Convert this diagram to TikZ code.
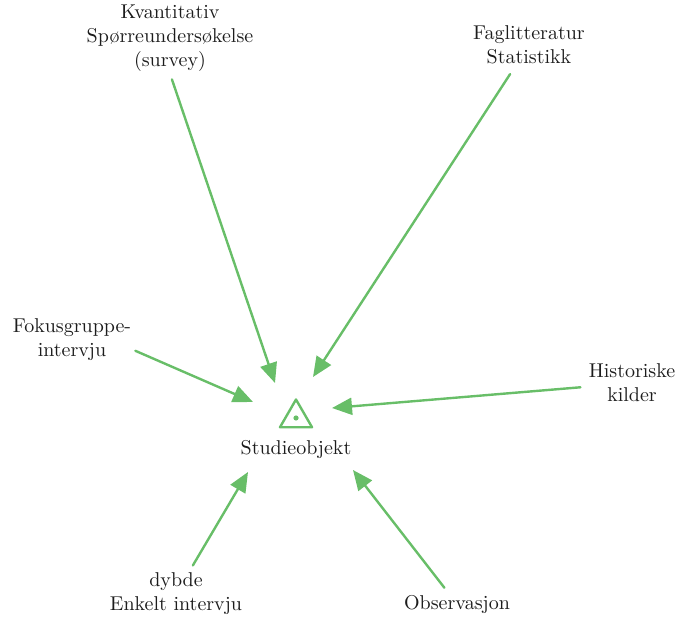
\documentclass[tikz,border=0pt]{standalone}
\usetikzlibrary{arrows.meta,shapes.geometric}
\definecolor{leafgreen}{RGB}{104,190,104}
\definecolor{inkgray}{RGB}{28,28,28}
\tikzset{
  srcnode/.style={align=center,text=inkgray,inner sep=1pt},
  objnode/.style={regular polygon,regular polygon sides=3,draw=leafgreen,line width=1.2pt,minimum size=18.5pt,inner sep=0pt},
  feedarrow/.style={draw=leafgreen,line width=1.2pt,shorten <=3pt,-{Triangle[length=10pt,width=8.5pt]},leafgreen},
  every picture/.style={line cap=round,line join=round}
}
\begin{document}
\begin{tikzpicture}[x=0.5pt,y=-0.5pt]
  \useasboundingbox (0,0) rectangle (684,619);
  % study object in the middle
  \node[objnode] (tri) at (296,418) {};
  \fill[leafgreen] (tri.center) circle (1.3pt);
  \node[srcnode] (studie) at (296,449) {Studieobjekt};
  % sources round it
  \node[srcnode] (kvant) at (170,38) {Kvantitativ\\Spørreundersøkelse\\(survey)};
  \node[srcnode] (fag) at (529,45) {Faglitteratur\\Statistikk};
  \node[srcnode] (fokus) at (72,340) {Fokusgruppe-\\intervju};
  \node[srcnode] (hist) at (632,383) {Historiske\\kilder};
  \node[srcnode] (dybde) at (176,594) {dybde\\Enkelt intervju};
  \node[srcnode] (obs) at (457,604) {Observasjon};
  % arrow tips
  \coordinate (kvantTip) at (275,383);
  \coordinate (fagTip) at (313,377);
  \coordinate (fokusTip) at (253,402);
  \coordinate (histTip) at (332,408);
  \coordinate (dybdeTip) at (248,472);
  \coordinate (obsTip) at (353,470);
  \draw[feedarrow] (kvant.south) -- (kvantTip);
  \draw[feedarrow,shorten <=4.5pt] (fag) -- (fagTip);
  \draw[feedarrow,shorten <=1pt] ([yshift=-5pt]fokus.east) -- (fokusTip);
  \draw[feedarrow] (hist) -- (histTip);
  \draw[feedarrow] (dybde) -- (dybdeTip);
  \draw[feedarrow] (obs) -- (obsTip);
\end{tikzpicture}
\end{document}
